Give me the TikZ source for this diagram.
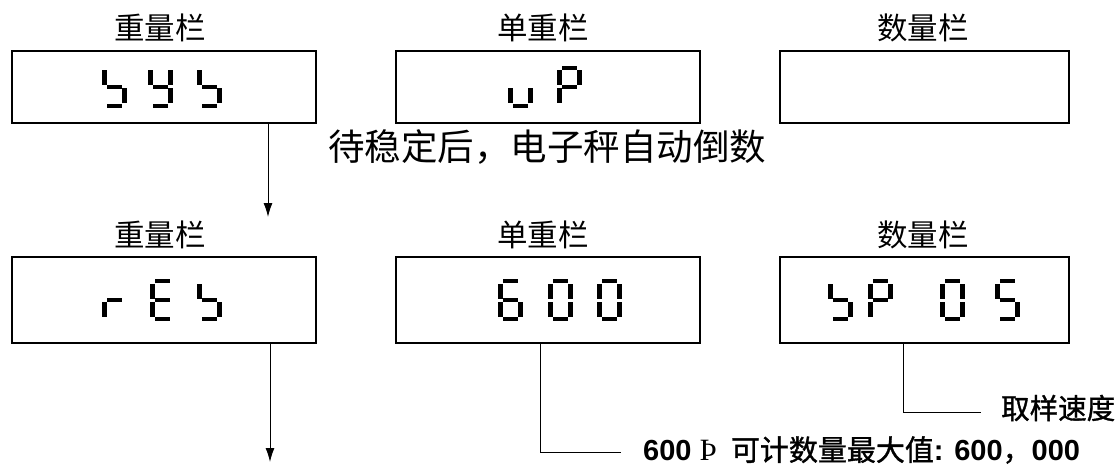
\documentclass[tikz,border=0pt]{standalone}
\usepackage{fontspec}
\setmainfont{Liberation Sans}
\newfontfamily\cjk{Noto Sans CJK SC}
\newfontfamily\cjkh[FakeBold=1.2]{Noto Sans CJK SC}
\newfontfamily\lserif{Liberation Serif}
\usetikzlibrary{arrows.meta}

% seven-segment pieces (px, y downward)
\def\sga{(5,0) rectangle (20,4)}
\def\sgb{(20,4.5) rectangle (24.5,19.5)}
\def\sgc{(20,22.5) rectangle (24.5,37.5)}
\def\sgd{(5,38) rectangle (20,42)}
\def\sge{(0,22.5) rectangle (4.5,37.5)}
\def\sgf{(0,4.5) rectangle (4.5,19.5)}
\def\sgg{(5,19) rectangle (20,23)}
\newcommand\dgt[3]{\foreach \s in {#3}{\edef\tmp{\noexpand\fill[shift={(#1,#2)}] \csname sg\s\endcsname;}\tmp}}

\tikzset{
  box/.style={draw, line width=1.5pt, inner sep=0pt},
  lab/.style={font=\cjk\fontsize{30.5}{34}\selectfont, inner sep=0pt},
  captext/.style={font=\cjk\fontsize{36.5}{40}\selectfont, inner sep=0pt},
  note/.style={font=\bfseries\fontsize{29}{32}\selectfont, inner sep=0pt},
  flow/.style={line width=1pt, -{Latex[length=14pt,width=9pt]}},
  lead/.style={line width=1pt}
}

\begin{document}
\begin{tikzpicture}[x=1pt,y=-1pt]
\useasboundingbox (0,0) rectangle (1119,468);
\fill[white] (0,0) rectangle (1119,468);

% row 1
\node[lab] (l1) at (160,28) {重量栏};
\node[lab] (l2) at (543,28) {单重栏};
\node[lab] (l3) at (923,28) {数量栏};
\node[box, minimum width=304pt, minimum height=72pt] (b1) at (164,87) {};
\node[box, minimum width=304pt, minimum height=72pt] (b2) at (548,87) {};
\node[box, minimum width=289pt, minimum height=72pt] (b3) at (924.5,87) {};

\dgt{102}{66}{f,g,c,d}
\dgt{148}{66}{f,b,g,c,d}
\dgt{197}{66}{f,g,c,d}
\dgt{508}{66}{e,d,c}
\dgt{557}{66}{a,b,f,g,e}

\node[captext, anchor=west] (cp) at (328,147) {待稳定后，电子秤自动倒数};

% row 2
\node[lab] (l4) at (160,235) {重量栏};
\node[lab] (l5) at (543,235) {单重栏};
\node[lab] (l6) at (923,235) {数量栏};
\node[box, minimum width=304pt, minimum height=86pt] (c1) at (164,300) {};
\node[box, minimum width=304pt, minimum height=86pt] (c2) at (548,300) {};
\node[box, minimum width=289pt, minimum height=86pt] (c3) at (924.5,300) {};

\dgt{102}{279}{e,g}
\dgt{150}{279}{a,f,g,e,d}
\dgt{197}{279}{f,g,c,d}
\dgt{498}{279}{a,f,g,e,d,c}
\dgt{548}{279}{a,b,c,d,e,f}
\dgt{597}{279}{a,b,c,d,e,f}
\dgt{828}{279}{f,g,c,d}
\dgt{868}{279}{a,b,f,g,e}
\dgt{940}{279}{a,b,c,d,e,f}
\dgt{995}{279}{a,f,g,c,d}

% arrows
\coordinate (a1) at (268,217);
\coordinate (a2) at (270,462);
\draw[flow] (b1.south -| a1) -- (a1);
\draw[flow] (c1.south -| a2) -- (a2);

% notes
\node[note, anchor=west] (t1) at (643,450) {600 {\lserif\mdseries\fontsize{31}{32}\selectfont Þ}\hspace{14pt}{\cjkh\mdseries 可计数量最大值}: 600{\cjkh\mdseries ，}000};
\node[note, anchor=west, font=\cjkh\fontsize{28.5}{32}\selectfont] (t2) at (1001,408) {取样速度};
\coordinate (k1) at (540,452);
\coordinate (k2) at (903,412);
\draw[lead] (c2.south -| k1) -- (k1) -- ([xshift=-22pt]t1.west |- k1);
\draw[lead] (c3.south -| k2) -- (k2) -- ([xshift=-20pt]t2.west |- k2);
\end{tikzpicture}
\end{document}
